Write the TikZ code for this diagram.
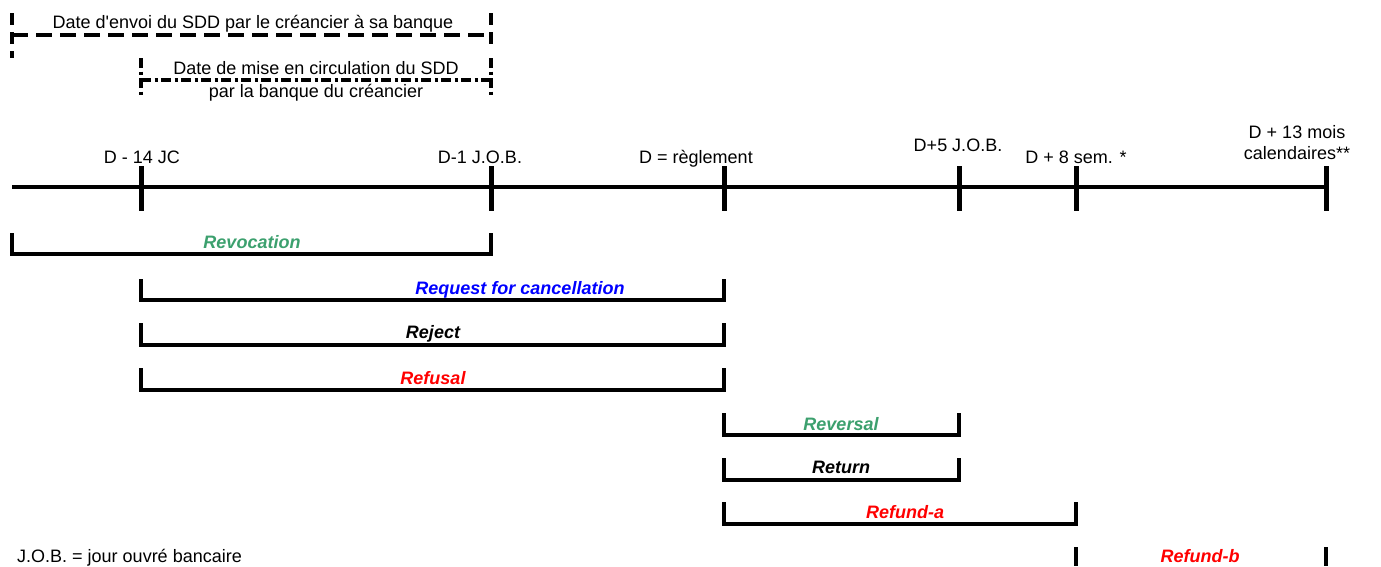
\documentclass[tikz,border=0pt]{standalone}
\usepackage{fontspec}
\setmainfont{Liberation Sans}[Ligatures=TeXOff]
\definecolor{revgreen}{RGB}{60,160,110}
\definecolor{reqblue}{RGB}{0,0,255}
\definecolor{refred}{RGB}{255,0,0}
\begin{document}
\begin{tikzpicture}[x=1pt,y=-1pt,
  lbl/.style={font=\fontsize{18}{21}\selectfont, inner sep=0pt, align=center},
  bl/.style={lbl, anchor=base},
  act/.style={font=\fontsize{18}{21}\selectfont\bfseries\itshape, inner sep=0pt, anchor=base},
  axis/.style={line width=4pt},
  tickmark/.style={line width=5pt},
  brk/.style={line width=4pt, line cap=butt},
  dashbrk/.style={line width=3.5pt, dash pattern=on 16pt off 8pt},
  dashvert/.style={line width=4pt, dash pattern=on 12pt off 7pt},
  dotbrk/.style={line width=3.5pt, dash pattern=on 10pt off 3.5pt on 3pt off 3.5pt}]
\useasboundingbox (0,0) rectangle (1381,566);

% time axis
\coordinate (t0) at (12,187);
\coordinate (t1) at (141,187);
\coordinate (t2) at (491,187);
\coordinate (t3) at (724,187);
\coordinate (t4) at (959,187);
\coordinate (t5) at (1076,187);
\coordinate (t6) at (1326,187);
\draw[axis] (t0) -- (t6);
\foreach \t in {t1,t2,t3,t4,t5,t6}
  \draw[tickmark] (\t) ++(0,-21) -- ++(0,45);

% axis labels
\node[bl] (l1) at (142,163.5) {D - 14 JC};
\node[bl] (l2) at (480,163.5) {D-1 J.O.B.};
\node[bl] (l3) at (696,163.5) {D = règlement};
\node[bl] (l4) at (958,151.5) {D+5 J.O.B.};
\node[bl] (l5) at (1076,163.5) {D + 8 sem. *};
\node[lbl] (l6) at (1297,143) {D + 13 mois\\calendaires**};

% top brackets
\draw[dashvert] (12,13) -- (12,58);
\draw[dashbrk] (12,35) -- (491,35);
\draw[dashvert] (491,13) -- (491,45);
\node[bl] (envoi) at (253,28.5) {Date d'envoi du SDD par le créancier à sa banque};

\draw[dotbrk] (141,58) -- (141,97);
\draw[dotbrk] (141,80) -- (491,80);
\draw[dotbrk] (491,58) -- (491,97);
\node[bl] (circ1) at (316,74.5) {Date de mise en circulation du SDD};
\node[bl] (circ2) at (316,97.5) {par la banque du créancier};

% action brackets
\draw[brk] (12,233) |- (491,254) -- (491,233);
\node[act, text=revgreen] (revoc) at (252,248.5) {Revocation};

\draw[brk] (141,279) |- (724,300) -- (724,279);
\node[act, text=reqblue] (req) at (520,294) {Request for cancellation};

\draw[brk] (141,323) |- (724,345) -- (724,323);
\node[act] (rej) at (433,338.5) {Reject};

\draw[brk] (141,368) |- (724,390) -- (724,368);
\node[act, text=refred] (refus) at (433,384.5) {Refusal};

\draw[brk] (724,413) |- (959,435) -- (959,413);
\node[act, text=revgreen] (rever) at (841,430.5) {Reversal};

\draw[brk] (724,458) |- (959,480) -- (959,458);
\node[act] (ret) at (841,473.5) {Return};

\draw[brk] (724,502) |- (1076,524) -- (1076,502);
\node[act, text=refred] (refa) at (905,518.5) {Refund-a};

\draw[brk] (1076,547) -- (1076,566);
\draw[brk] (1326,547) -- (1326,566);
\node[act, text=refred] (refb) at (1200,562.5) {Refund-b};

% footnote
\node[bl, anchor=base west] (job) at (17,562.5) {J.O.B. = jour ouvré bancaire};
\end{tikzpicture}
\end{document}
